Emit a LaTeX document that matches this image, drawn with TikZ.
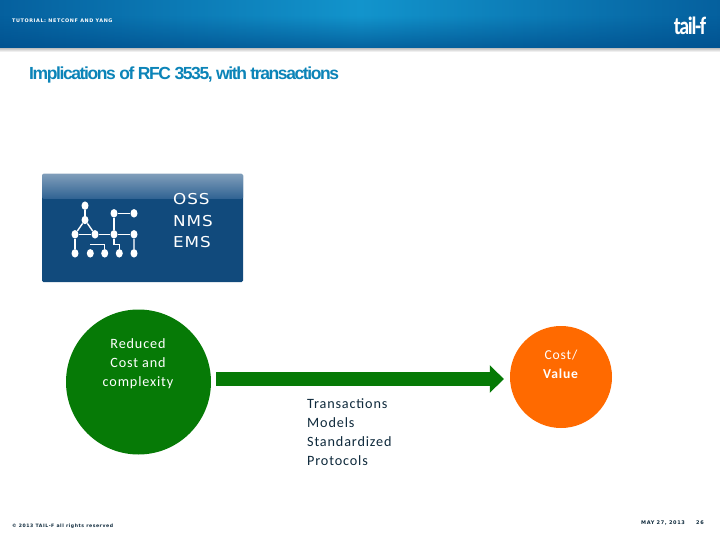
\documentclass[tikz,border=0pt]{standalone}
\usepackage{fontspec}
\usetikzlibrary{calc}
\usetikzlibrary{shapes.geometric}
\usetikzlibrary{arrows.meta}
\usetikzlibrary{fadings}
\setmainfont{Liberation Sans}
\newfontfamily\titlefont[LetterSpace=-8]{Liberation Sans}
\newfontfamily\tinyfont[LetterSpace=12]{DejaVu Sans}
\newfontfamily\osfont[LetterSpace=6,FakeStretch=1.12]{DejaVu Sans}
\newfontfamily\bodyfont[LetterSpace=6]{Carlito}
\newfontfamily\logofont[LetterSpace=-5,FakeStretch=0.8]{Carlito}
\definecolor{headdark}{HTML}{004E8C}
\definecolor{headedge}{HTML}{05609E}
\definecolor{headlight}{HTML}{1294CC}
\definecolor{titleblue}{HTML}{0C84B8}
\definecolor{boxblue}{HTML}{114A7C}
\definecolor{boxlight}{HTML}{7F9DBA}
\definecolor{boxmid}{HTML}{2F6292}
\definecolor{arrowgreen}{HTML}{067A06}
\definecolor{valueorange}{HTML}{FF6A00}
\definecolor{textdark}{HTML}{0F2A3C}
\tikzset{
  dotnode/.style={ellipse, fill=white, inner sep=0pt, minimum width=7pt, minimum height=8.5pt},
  wire/.style={draw=white, line width=1.4pt},
  blob/.style={circle, inner sep=0pt},
  bodytext/.style={inner sep=0pt, align=center, font={\bodyfont\fontsize{14.2}{19}\selectfont}},
  foot/.style={inner sep=0pt, text=textdark, font={\tinyfont\bfseries\fontsize{5}{6}\selectfont}},
}

\begin{document}
\begin{tikzpicture}[x=1pt, y=-1pt]
  \useasboundingbox (0,0) rectangle (720,540);
  \fill[white] (0,0) rectangle (720,540);
  % header band
  \shade[top color=black!25, bottom color=white] (0,48) rectangle (720,52);
  \shade[left color=headedge, right color=headedge, middle color=headlight] (0,0) rectangle (720,48);
  \fill[headdark, path fading=north, fill opacity=0.7] (0,16) rectangle (720,48);
  \node[anchor=west, inner sep=0pt, text=white, font={\tinyfont\bfseries\fontsize{4.9}{6}\selectfont}] (tutorial) at (12,21) {TUTORIAL: NETCONF AND YANG};
  \node[anchor=center, inner sep=0pt, text=white, font={\logofont\bfseries\fontsize{25}{26}\selectfont}] (logo) at (690,26) {tail-f};
  \node[anchor=west, inner sep=0pt, text=titleblue, font={\titlefont\bfseries\fontsize{17.5}{18}\selectfont}] (title) at (29,74.5) {Implications of RFC 3535, with transactions};

  % OSS box
  \fill[boxblue, rounded corners=1.5pt] (42,174) rectangle (243,282);
  \shade[top color=boxlight, bottom color=boxmid, rounded corners=1.5pt] (42,174) rectangle (243,199);
  \node[anchor=north west, inner sep=0pt, align=left, text=white, font={\osfont\fontsize{15}{21.3}\selectfont}] (oss) at (173,193.5) {OSS\\NMS\\EMS};

  % icon
  \node[dotnode] (top) at (85,205.7) {};
  \node[dotnode] (apex) at (85,220) {};
  \node[dotnode] (midA) at (75,234.3) {};
  \node[dotnode] (midB) at (95,234.3) {};
  \node[dotnode] (midC) at (114,234.3) {};
  \node[dotnode] (midD) at (134,234.3) {};
  \node[dotnode] (upC) at (114,213.3) {};
  \node[dotnode] (upD) at (134,213.3) {};
  \node[dotnode] (lowA) at (75,253.3) {};
  \node[dotnode] (lowB) at (90.3,253.3) {};
  \node[dotnode] (lowC) at (104.7,253.3) {};
  \node[dotnode] (lowD) at (119.3,253.3) {};
  \node[dotnode] (lowE) at (134,253.3) {};
  \coordinate (stub) at (90.3,244.3);
  \coordinate (bendC) at (114,244.3);
  \draw[wire] (top) -- (apex);
  \draw[wire] (apex) -- (midA);
  \draw[wire] (apex) -- (midB);
  \draw[wire] (midA) -- (midB) -- (midC) -- (midD);
  \draw[wire] (upC) -- (upD);
  \draw[wire] (upC) -- (midC);
  \draw[wire] (midA) -- (lowA);
  \draw[wire, draw=boxlight!60!white] (midD) -- (lowE);
  \draw[wire] (stub) -| (lowC);
  \draw[wire] (midC) -- (bendC) -| (lowD);

  % circles and arrow
  \node[blob, fill=arrowgreen, minimum size=145pt] (reduced) at (138.5,382) {};
  \node[blob, fill=valueorange, minimum size=102pt] (cost) at (561,377) {};
  \coordinate (arrowline) at (360,379);
  \draw[draw=arrowgreen, line width=14pt, -{Triangle[length=14pt, width=27pt]}, shorten <=5pt, shorten >=6pt] (reduced.east |- arrowline) -- (cost.west |- arrowline);

  % texts
  \node[bodytext, text=white] (reducedtext) at (138,364) {Reduced\\Cost and\\complexity};
  \node[bodytext, text=white, font={\bodyfont\fontsize{13.6}{19}\selectfont}] (costtext) at (561,364) {Cost/\\\textbf{Value}};
  \node[bodytext, anchor=north west, align=left, text=textdark] (enablers) at (307,398.5) {Transactions\\Models\\Standardized\\Protocols};
  \node[foot, anchor=west, font={\tinyfont\bfseries\fontsize{4.6}{6}\selectfont}] (copyright) at (12,526) {\textcopyright{} 2013 TAIL-F all rights reserved};
  \node[foot, anchor=west] (date) at (641,523) {MAY 27, 2013};
  \node[foot, anchor=west] (page) at (696,523) {26};
\end{tikzpicture}
\end{document}
